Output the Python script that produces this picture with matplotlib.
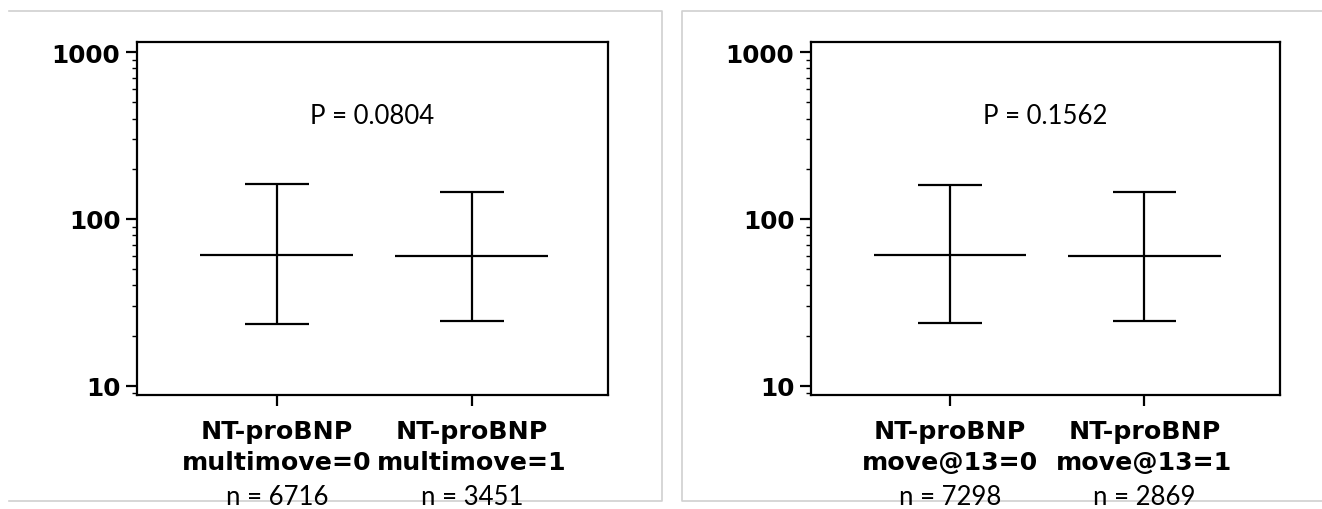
import matplotlib
matplotlib.use("Agg")
import matplotlib.pyplot as plt
from matplotlib.lines import Line2D
from matplotlib.ticker import FixedLocator, LogLocator, NullFormatter

# geometric mean with 95% range, NT-proBNP by movement group
left_groups = ["multimove=0", "multimove=1"]
left_n = [6716, 3451]
left_center = [60.8, 59.7]
left_low = [23.4, 24.4]
left_high = [162, 146]
left_p = "0.0804"

right_groups = ["move@13=0", "move@13=1"]
right_n = [7298, 2869]
right_center = [60.8, 59.7]
right_low = [23.8, 24.4]
right_high = [160, 146]
right_p = "0.1562"

yticks = [10, 100, 1000]

MEAN_HALF = 0.392
CAP_HALF = 0.164
LW = 1.6


def draw_panel(ax, groups, n, center, low, high, pval):
    xs = list(range(1, len(groups) + 1))
    ax.vlines(xs, low, high, color="black", lw=LW)
    ax.hlines(high, [x - CAP_HALF for x in xs], [x + CAP_HALF for x in xs], color="black", lw=LW)
    ax.hlines(low, [x - CAP_HALF for x in xs], [x + CAP_HALF for x in xs], color="black", lw=LW)
    ax.hlines(center, [x - MEAN_HALF for x in xs], [x + MEAN_HALF for x in xs], color="black", lw=LW)

    ax.set_yscale("log")
    ax.set_ylim(8.83, 1148)
    ax.set_xlim(0.283, 2.698)
    ax.yaxis.set_major_locator(FixedLocator(yticks))
    ax.set_yticklabels([str(t) for t in yticks], fontweight="bold", fontsize=17.8,
                       family="DejaVu Sans")
    ax.yaxis.set_minor_locator(LogLocator(base=10, subs=range(2, 10)))
    ax.yaxis.set_minor_formatter(NullFormatter())
    ax.tick_params(axis="y", which="major", length=8, width=LW, pad=4)
    ax.tick_params(axis="y", which="minor", length=3.5, width=1.0)
    ax.set_xticks(xs)
    ax.set_xticklabels([])
    ax.tick_params(axis="x", length=8, width=LW)
    for s in ax.spines.values():
        s.set_linewidth(LW)

    tr = ax.get_xaxis_transform()
    for x, g, cnt in zip(xs, groups, n):
        ax.text(x, -0.123, "NT-proBNP", transform=tr, ha="center", va="baseline",
                fontsize=18.2, fontweight="bold", family="DejaVu Sans", clip_on=False)
        ax.text(x, -0.211, g, transform=tr, ha="center", va="baseline",
                fontsize=18.2, fontweight="bold", family="DejaVu Sans", clip_on=False)
        ax.text(x, -0.310, f"n = {cnt}", transform=tr, ha="center", va="baseline",
                fontsize=18.5, family=["Lato", "DejaVu Sans"], clip_on=False, zorder=5)

    ax.text(0.5, 0.772, f"P = {pval}", transform=ax.transAxes, ha="center", va="baseline",
            fontsize=18.5, family=["Lato", "DejaVu Sans"])


W, H = 1322, 510
fig = plt.figure(figsize=(W / 100, H / 100), dpi=100)
ax1 = fig.add_axes([137 / W, 1 - 395.7 / H, (608 - 137) / W, (395.7 - 43.3) / H])
ax2 = fig.add_axes([811 / W, 1 - 395.7 / H, (1280 - 811) / W, (395.7 - 43.3) / H])

draw_panel(ax1, left_groups, left_n, left_center, left_low, left_high, left_p)
draw_panel(ax2, right_groups, right_n, right_center, right_low, right_high, right_p)

# light gray panel frames
gray = "#d0d0d0"


def px_line(xs, ys):
    fig.add_artist(Line2D([x / W for x in xs], [1 - y / H for y in ys],
                          transform=fig.transFigure, color=gray, lw=1.2, zorder=0))


px_line([9, 662, 662, 9], [12, 12, 502, 502])
px_line([1322, 682, 682, 1322], [12, 12, 502, 502])

fig.savefig("out.png", dpi=100)
